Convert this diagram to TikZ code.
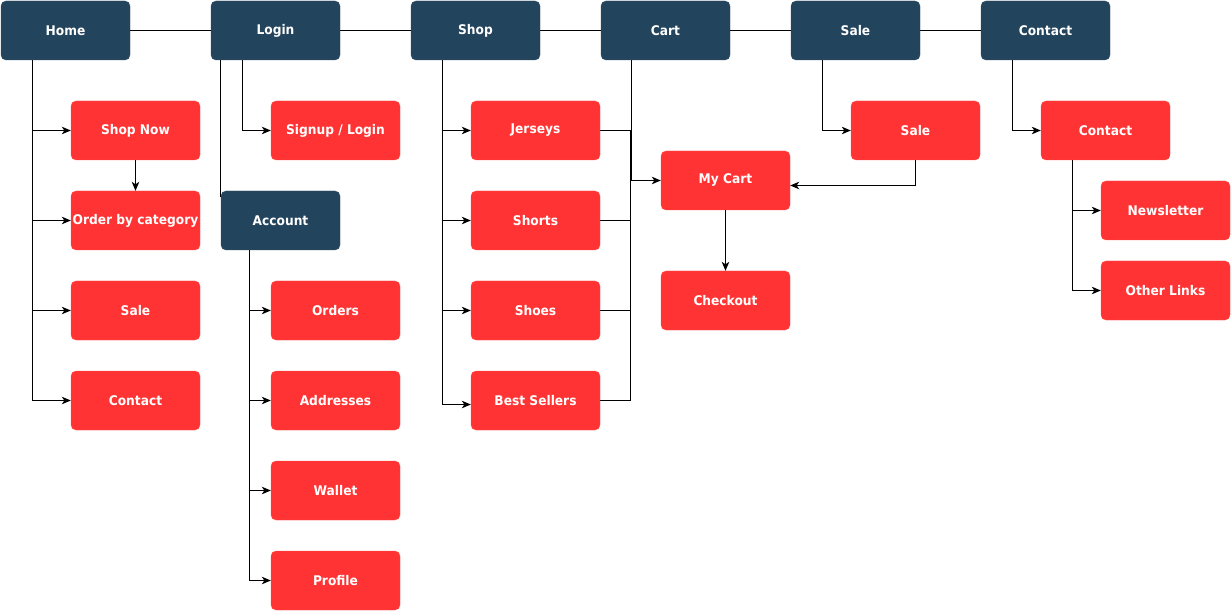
\documentclass[tikz,border=0pt]{standalone}
\usepackage{fontspec}
\setmainfont{DejaVu Sans}[FakeStretch=0.92]
\usetikzlibrary{arrows.meta}
\definecolor{navy}{HTML}{23445D}
\definecolor{redbox}{HTML}{FF3333}
\tikzset{
  box/.style={rounded corners=5pt, minimum width=129pt, minimum height=59pt, inner sep=0pt,
    text=white, font=\bfseries\fontsize{13.3}{15}\selectfont, anchor=center},
  topbox/.style={box, fill=navy, draw=navy!80!gray},
  redb/.style={box, fill=redbox, draw=redbox!85!white},
  conn/.style={draw=black, line width=1pt},
  arr/.style={conn, -{Stealth[length=9pt,width=7.5pt,inset=2.5pt]}},
}
\begin{document}
\begin{tikzpicture}[x=1pt,y=-1pt]
\useasboundingbox (0,0) rectangle (1231,612);
% top row
\node[topbox] (home) at (65.5,30.5) {Home};
\node[topbox] (login) at (275.5,30.5) {Login};
\node[topbox] (shop) at (475.5,30.5) {Shop};
\node[topbox] (cart) at (665.5,30.5) {Cart};
\node[topbox] (sale) at (855.5,30.5) {Sale};
\node[topbox] (contact) at (1045.5,30.5) {Contact};
% home children
\node[redb] (shopnow) at (135.5,130.5) {Shop Now};
\node[redb] (order) at (135.5,220.5) {Order by category};
\node[redb] (hsale) at (135.5,310.5) {Sale};
\node[redb] (hcontact) at (135.5,400.5) {Contact};
% login children
\node[redb] (signup) at (335.5,130.5) {Signup / Login};
\node[topbox, minimum width=119pt] (account) at (280.5,220.5) {Account};
\node[redb] (orders) at (335.5,310.5) {Orders};
\node[redb] (addresses) at (335.5,400.5) {Addresses};
\node[redb] (wallet) at (335.5,490.5) {Wallet};
\node[redb] (profile) at (335.5,580.5) {Profile};
% shop children
\node[redb] (jerseys) at (535.5,130.5) {Jerseys};
\node[redb] (shorts) at (535.5,220.5) {Shorts};
\node[redb] (shoes) at (535.5,310.5) {Shoes};
\node[redb] (best) at (535.5,400.5) {Best Sellers};
% cart
\node[redb] (mycart) at (725.5,180.5) {My Cart};
\node[redb] (checkout) at (725.5,300.5) {Checkout};
% sale / contact
\node[redb] (ssale) at (915.5,130.5) {Sale};
\node[redb] (ccontact) at (1105.5,130.5) {Contact};
\node[redb] (news) at (1165.5,210.5) {Newsletter};
\node[redb] (other) at (1165.5,290.5) {Other Links};

% top row links
\draw[conn] (home.east) -- (login.west);
\draw[conn] (login.east) -- (shop.west);
\draw[conn] (shop.east) -- (cart.west);
\draw[conn] (cart.east) -- (sale.west);
\draw[conn] (sale.east) -- (contact.west);

% home
\foreach \t in {shopnow,order,hsale,hcontact}
  \draw[arr] ([xshift=32pt]home.south west) |- (\t.west);
\draw[arr] (shopnow.south) -- (order.north);

% login
\draw[arr] ([xshift=32pt]login.south west) |- (signup.west);
\draw[conn] (login.south -| account.west) -- ([yshift=-6pt]account.north west);
\foreach \t in {orders,addresses,wallet,profile}
  \draw[arr] ([xshift=29pt]account.south west) |- (\t.west);

% shop
\foreach \t in {jerseys,shorts,shoes}
  \draw[arr] ([xshift=32pt]shop.south west) |- (\t.west);
\draw[arr] ([xshift=32pt]shop.south west) |- ([yshift=-4pt]best.west);

% to my cart
\coordinate (jn) at (630.5,180.5);
\foreach \t in {jerseys,shorts,shoes,best}
  \draw[conn] (\t.east) -| (jn);
\draw[conn] ([xshift=31pt]cart.south west) |- (jn);
\draw[arr] (jn) -- (mycart.west);
\draw[arr] (ssale.south) |- ([yshift=-5pt]mycart.east);
\draw[arr] (mycart.south) -- (checkout.north);

% sale, contact
\draw[arr] ([xshift=32pt]sale.south west) |- (ssale.west);
\draw[arr] ([xshift=32pt]contact.south west) |- (ccontact.west);
\draw[arr] ([xshift=32pt]ccontact.south west) |- (news.west);
\draw[arr] ([xshift=32pt]ccontact.south west) |- (other.west);
\end{tikzpicture}
\end{document}
